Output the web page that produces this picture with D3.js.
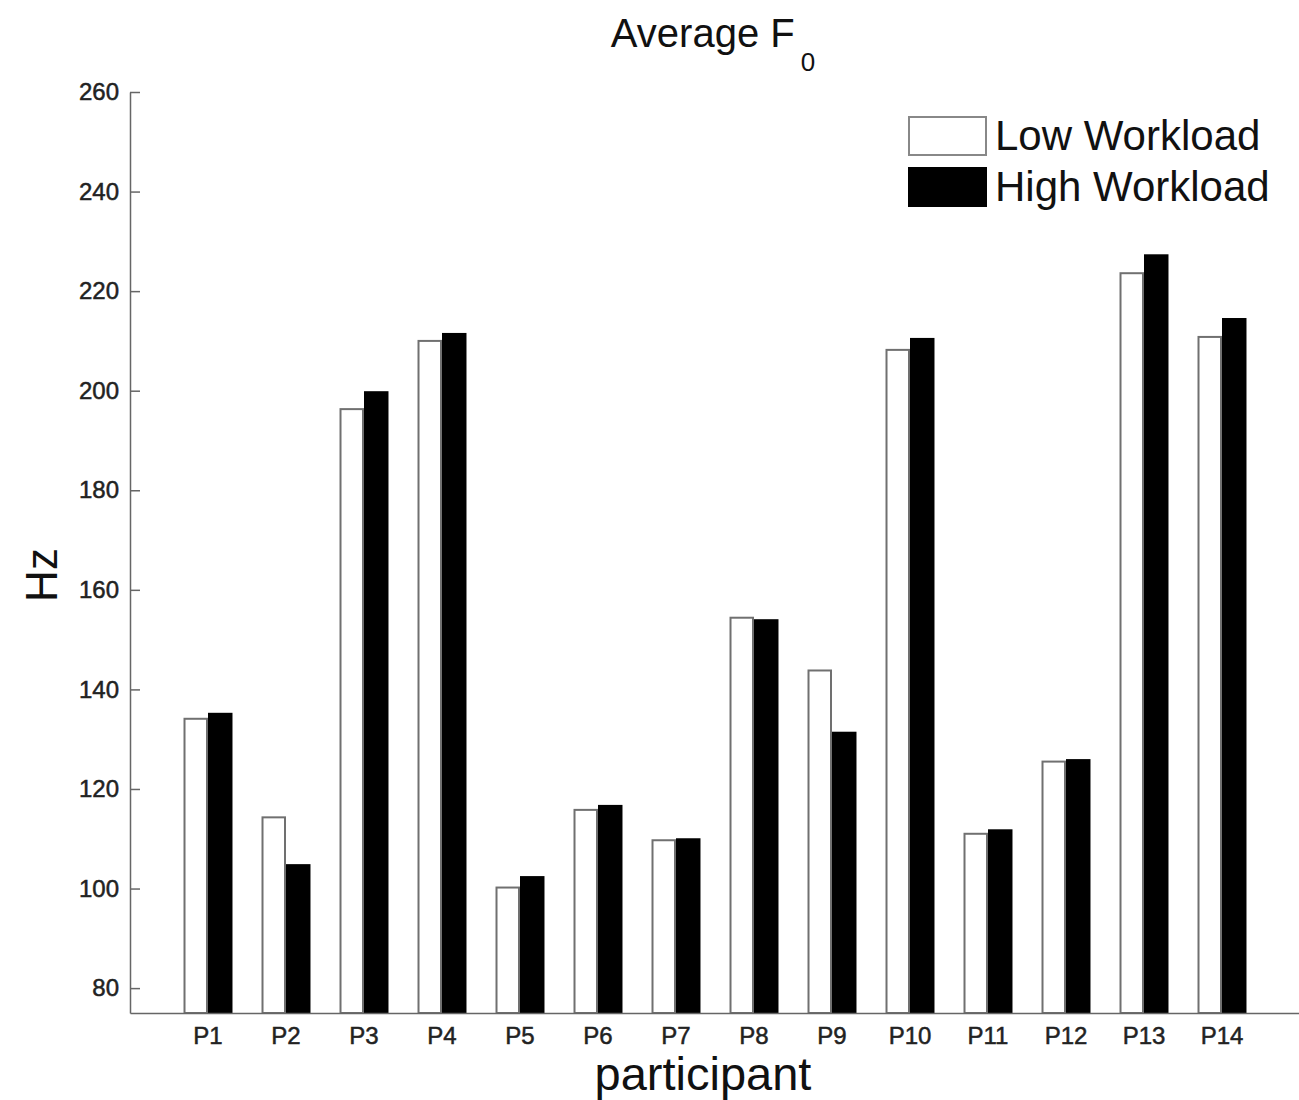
<!DOCTYPE html>
<html>
<head>
<meta charset="utf-8">
<script src="https://cdn.jsdelivr.net/npm/d3@7"></script>
<style>
  html, body { margin: 0; padding: 0; background: #fff; }
  svg { display: block; }
  text { font-family: "Liberation Sans", Arial, Helvetica, sans-serif; }
</style>
</head>
<body>
<svg id="chart" width="1299" height="1100"></svg>
<script>
// ---- data ----
const participants = ["P1","P2","P3","P4","P5","P6","P7","P8","P9","P10","P11","P12","P13","P14"];
const lowWorkload  = [134.1, 114.3, 196.3, 210.0, 100.2, 115.8, 109.7, 154.4, 143.8, 208.2, 111.0, 125.5, 223.6, 210.8];
const highWorkload = [135.1, 104.7, 199.7, 211.4, 102.3, 116.6, 109.9, 153.9, 131.3, 210.4, 111.7, 125.8, 227.2, 214.4];
const seriesNames = ["Low Workload", "High Workload"];
const yTicks = [80, 100, 120, 140, 160, 180, 200, 220, 240, 260];
const yDomain = [75, 260];

const rows = participants.map((p, i) => ({ p, values: [lowWorkload[i], highWorkload[i]] }));

const svg = d3.select("#chart");
const plotLeft = 130, plotRight = 1300, plotTop = 92, plotBottom = 1013;

const x = d3.scaleBand().domain(participants).range([plotLeft, plotRight])
  .paddingInner(0.372).paddingOuter(0.686);
const xs = d3.scaleBand().domain(seriesNames).range([0, x.bandwidth()]).padding(0);
const y = d3.scaleLinear().domain(yDomain).range([plotBottom, plotTop]);

const fills = ["#ffffff", "#000000"];
const strokes = ["#707070", "#000000"];

// bars
const g = svg.append("g");
rows.forEach(r => {
  r.values.forEach((v, k) => {
    g.append("rect")
      .attr("x", x(r.p) + xs(seriesNames[k]) + 1)
      .attr("y", y(v))
      .attr("width", xs.bandwidth() - 2)
      .attr("height", y(yDomain[0]) - y(v))
      .attr("fill", fills[k])
      .attr("stroke", strokes[k])
      .attr("stroke-width", 2);
  });
});

// y axis
const yAxis = svg.append("g").attr("transform", `translate(${plotLeft},0)`)
  .call(d3.axisLeft(y).tickValues(yTicks).tickSizeInner(-10).tickSizeOuter(0).tickPadding(11));
yAxis.select(".domain").attr("stroke", "#666").attr("stroke-width", 1.5);
yAxis.selectAll(".tick line").attr("stroke", "#666").attr("stroke-width", 1.5);
yAxis.selectAll(".tick text").attr("font-size", 24).attr("fill", "#222")
  .attr("stroke", "#222").attr("stroke-width", 0.5)
  .attr("font-family", "'Liberation Sans', Arial, sans-serif");

// x axis
const xAxis = svg.append("g").attr("transform", `translate(0,${plotBottom})`)
  .call(d3.axisBottom(x).tickSize(0).tickPadding(14));
xAxis.select(".domain").attr("stroke", "#666").attr("stroke-width", 1.5);
xAxis.selectAll(".tick text").attr("font-size", 24).attr("fill", "#222")
  .attr("stroke", "#222").attr("stroke-width", 0.5)
  .attr("font-family", "'Liberation Sans', Arial, sans-serif");

// title
const title = svg.append("text").attr("x", 713).attr("y", 47).attr("text-anchor", "middle")
  .attr("font-size", 40).attr("fill", "#111");
title.append("tspan").text("Average F");
title.append("tspan").attr("dx", 6).attr("dy", 24).attr("font-size", 26).text("0");

// axis labels
svg.append("text").attr("transform", "translate(57,575) rotate(-90)")
  .attr("text-anchor", "middle").attr("font-size", 44).attr("fill", "#111").text("Hz");
svg.append("text").attr("x", 703).attr("y", 1090)
  .attr("text-anchor", "middle").attr("font-size", 47).attr("fill", "#111").text("participant");

// legend
const legend = svg.append("g");
seriesNames.forEach((name, k) => {
  const ly = 117 + k * 51;
  legend.append("rect").attr("x", 909).attr("y", ly).attr("width", 77).attr("height", 38)
    .attr("fill", fills[k]).attr("stroke", k === 0 ? "#888" : "#000").attr("stroke-width", 2);
  legend.append("text").attr("x", 995).attr("y", ly + 33)
    .attr("font-size", 42).attr("fill", "#111").text(name);
});
</script>
</body>
</html>
